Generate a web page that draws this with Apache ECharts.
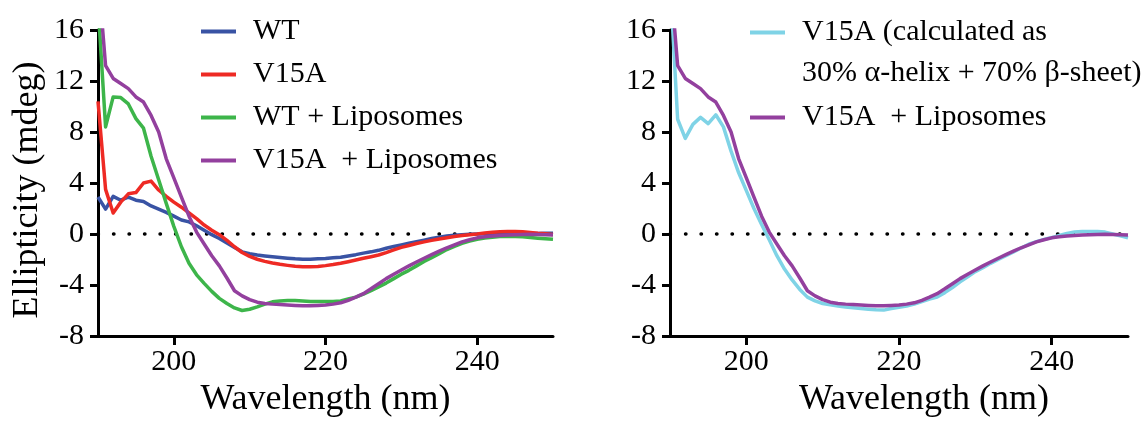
<!DOCTYPE html>
<html>
<head>
<meta charset="utf-8">
<script src="https://cdn.jsdelivr.net/npm/echarts@6/dist/echarts.min.js"></script>
<style>
  html, body { margin: 0; padding: 0; background: #fff; }
  #chart { width: 1147px; height: 423px; }
</style>
</head>
<body>
<div id="chart"></div>
<script>
// Far-UV CD spectra, 190–250 nm in 1 nm steps
const wavelengths = [];
for (let nm = 190; nm <= 250; nm++) wavelengths.push(nm);

const xTicks = [200, 220, 240];

const wt = [
  2.9, 1.95, 2.95, 2.65, 2.9, 2.65, 2.55, 2.2, 1.95, 1.7,
  1.4, 1.1, 0.95, 0.65, 0.3, -0.05, -0.35, -0.7, -1.05, -1.4,
  -1.55, -1.65, -1.72, -1.78, -1.84, -1.9, -1.95, -1.98, -1.98, -1.95,
  -1.92, -1.87, -1.82, -1.72, -1.62, -1.5, -1.4, -1.28, -1.12, -0.98,
  -0.85, -0.72, -0.6, -0.48, -0.36, -0.25, -0.16, -0.1, -0.05, -0.02,
  0, 0.02, 0.02, 0.03, 0.03, 0.03, 0.03, 0.04, 0.04, 0.05, 0.05
];

const v15a = [
  10.4, 3.5, 1.65, 2.5, 3.15, 3.25, 4.0, 4.15, 3.45, 2.95,
  2.5, 2.1, 1.65, 1.2, 0.7, 0.3, -0.05, -0.5, -1.0, -1.45,
  -1.75, -1.98, -2.15, -2.28, -2.38, -2.46, -2.53, -2.56, -2.56, -2.54,
  -2.48, -2.4, -2.3, -2.17, -2.04, -1.9, -1.78, -1.65, -1.46, -1.25,
  -1.05, -0.9, -0.75, -0.62, -0.5, -0.4, -0.3, -0.2, -0.12, -0.05,
  0, 0.08, 0.13, 0.18, 0.2, 0.2, 0.17, 0.12, 0.06, 0.02, -0.03
];

const wtLipo = [
  18, 8.4, 10.75, 10.7, 10.2, 9.05, 8.3, 6.1, 4.25, 2.4,
  0.6, -1.0, -2.3, -3.2, -3.87, -4.5, -5.05, -5.45, -5.8, -6.0,
  -5.9, -5.72, -5.5, -5.32, -5.25, -5.22, -5.22, -5.25, -5.3, -5.3,
  -5.3, -5.3, -5.25, -5.1, -4.95, -4.72, -4.45, -4.15, -3.85, -3.5,
  -3.15, -2.85, -2.5, -2.15, -1.85, -1.55, -1.22, -0.97, -0.74, -0.56,
  -0.42, -0.32, -0.25, -0.2, -0.2, -0.2, -0.22, -0.28, -0.33, -0.38, -0.42
];

const v15aLipo = [
  20.5, 13.2, 12.2, 11.8, 11.4, 10.75, 10.35, 9.3, 8.0, 5.9,
  4.4, 2.9, 1.4, 0.15, -0.78, -1.7, -2.5, -3.45, -4.45, -4.85,
  -5.15, -5.35, -5.45, -5.5, -5.52, -5.56, -5.6, -5.63, -5.63, -5.6,
  -5.57, -5.5, -5.4, -5.2, -4.95, -4.68, -4.3, -3.9, -3.5, -3.15,
  -2.82, -2.5, -2.2, -1.9, -1.62, -1.35, -1.08, -0.85, -0.62, -0.45,
  -0.3, -0.22, -0.16, -0.12, -0.08, -0.05, -0.03, -0.02, -0.03, -0.05, -0.08
];

const v15aCalc = [
  20, 9.0, 7.5, 8.6, 9.15, 8.65, 9.35, 8.4, 6.5, 4.8,
  3.4, 2.0, 0.75, -0.45, -1.7, -2.75, -3.6, -4.35, -4.95, -5.25,
  -5.45, -5.55, -5.65, -5.72, -5.78, -5.85, -5.9, -5.95, -5.97, -5.85,
  -5.75, -5.65, -5.5, -5.3, -5.1, -4.95, -4.6, -4.2, -3.75, -3.35,
  -2.95, -2.65, -2.3, -2.0, -1.7, -1.4, -1.1, -0.8, -0.6, -0.42,
  -0.28, -0.12, 0.05, 0.15, 0.2, 0.2, 0.2, 0.15, 0.0, -0.15, -0.3
];

const names = {
  wt: 'WT',
  v15a: 'V15A',
  wtLipo: 'WT + Liposomes',
  v15aLipo: 'V15A  + Liposomes',
  calc: 'V15A (calculated as 30% α-helix + 70% β-sheet)'
};
const calcFirstLine = 'V15A (calculated as';
const calcSecondLine = '30% α-helix + 70% β-sheet)';

const colors = {
  wt: '#3953A4',
  v15a: '#EE2A24',
  wtLipo: '#3DB54A',
  v15aLipo: '#93409E',
  calc: '#7FD3E6'
};

const FONT = 'Liberation Serif';

function pairs(ys) {
  return wavelengths.map((x, i) => [x, ys[i]]);
}

function curve(name, ys, color, idx) {
  return {
    name: name,
    type: 'line',
    xAxisIndex: idx,
    yAxisIndex: idx,
    data: pairs(ys),
    showSymbol: false,
    symbol: 'none',
    clip: true,
    lineStyle: { color: color, width: 3.5, join: 'round' },
    itemStyle: { color: color },
    emphasis: { disabled: true }
  };
}

// dotted reference line at 0 mdeg
function zeroLine(idx) {
  return {
    name: 'zero' + idx,
    type: 'line',
    xAxisIndex: idx,
    yAxisIndex: idx,
    data: [[190, 0], [250, 0]],
    symbol: 'none',
    silent: true,
    lineStyle: { color: '#000', width: 3.4, type: [0.5, 15], cap: 'round' }
  };
}

function xAxisFor(idx, shift) {
  return {
    type: 'value',
    gridIndex: idx,
    min: 190,
    max: 250,
    splitLine: { show: false },
    axisLine: { show: true, onZero: false, lineStyle: { color: '#000', width: 3 } },
    axisTick: { show: true, customValues: xTicks, length: 9, lineStyle: { color: '#000', width: 3 } },
    axisLabel: { customValues: xTicks, margin: 11, color: '#000', fontFamily: FONT, fontSize: 30 },
    name: 'Wavelength (nm)',
    nameLocation: 'middle',
    nameGap: 46,
    nameTextStyle: { color: '#000', fontFamily: FONT, fontSize: 36, padding: [0, 0, 0, shift] }
  };
}

function yAxisFor(idx, withName) {
  const ax = {
    type: 'value',
    gridIndex: idx,
    min: -8,
    max: 16,
    interval: 4,
    splitLine: { show: false },
    axisLine: { show: true, onZero: false, lineStyle: { color: '#000', width: 3 } },
    axisTick: { show: true, length: 8, lineStyle: { color: '#000', width: 3 } },
    axisLabel: { margin: 14, color: '#000', fontFamily: FONT, fontSize: 30 }
  };
  if (withName) {
    ax.name = 'Ellipticity (mdeg)';
    ax.nameLocation = 'middle';
    ax.nameGap = 52;
    ax.nameTextStyle = { color: '#000', fontFamily: FONT, fontSize: 36, padding: [0, 14, 0, 0] };
  }
  return ax;
}

const legendText = { color: '#000', fontFamily: FONT, fontSize: 30, lineHeight: 31, padding: [0, 0, 0, 12] };

const option = {
  animation: false,
  backgroundColor: '#fff',
  textStyle: { fontFamily: FONT },
  grid: [
    { left: 98, right: 594, top: 30, bottom: 87 },
    { left: 670, right: 19, top: 30, bottom: 84 }
  ],
  xAxis: [xAxisFor(0, 0), xAxisFor(1, 50)],
  yAxis: [yAxisFor(0, true), yAxisFor(1, false)],
  legend: [
    {
      data: [names.wt, names.v15a, names.wtLipo, names.v15aLipo],
      orient: 'vertical',
      left: 201,
      top: 16,
      padding: 0,
      itemWidth: 35,
      itemHeight: 4,
      itemGap: 12,
      icon: 'rect',
      selectedMode: false,
      textStyle: legendText
    },
    {
      data: [names.calc, names.v15aLipo],
      orient: 'vertical',
      left: 750,
      top: 17,
      padding: 0,
      itemWidth: 35,
      itemHeight: 4,
      itemGap: 54,
      icon: 'rect',
      selectedMode: false,
      formatter: function (n) { return n === names.calc ? calcFirstLine : n; },
      textStyle: legendText
    }
  ],
  graphic: [
    {
      type: 'text',
      left: 802,
      top: 58,
      style: { text: calcSecondLine, fill: '#000', fontFamily: FONT, fontSize: 30 }
    }
  ],
  series: [
    zeroLine(0),
    curve(names.wt, wt, colors.wt, 0),
    curve(names.v15a, v15a, colors.v15a, 0),
    curve(names.wtLipo, wtLipo, colors.wtLipo, 0),
    curve(names.v15aLipo, v15aLipo, colors.v15aLipo, 0),
    zeroLine(1),
    curve(names.calc, v15aCalc, colors.calc, 1),
    curve(names.v15aLipo, v15aLipo, colors.v15aLipo, 1)
  ]
};

const chart = echarts.init(document.getElementById('chart'), null, { renderer: 'canvas' });
chart.setOption(option);
</script>
</body>
</html>
